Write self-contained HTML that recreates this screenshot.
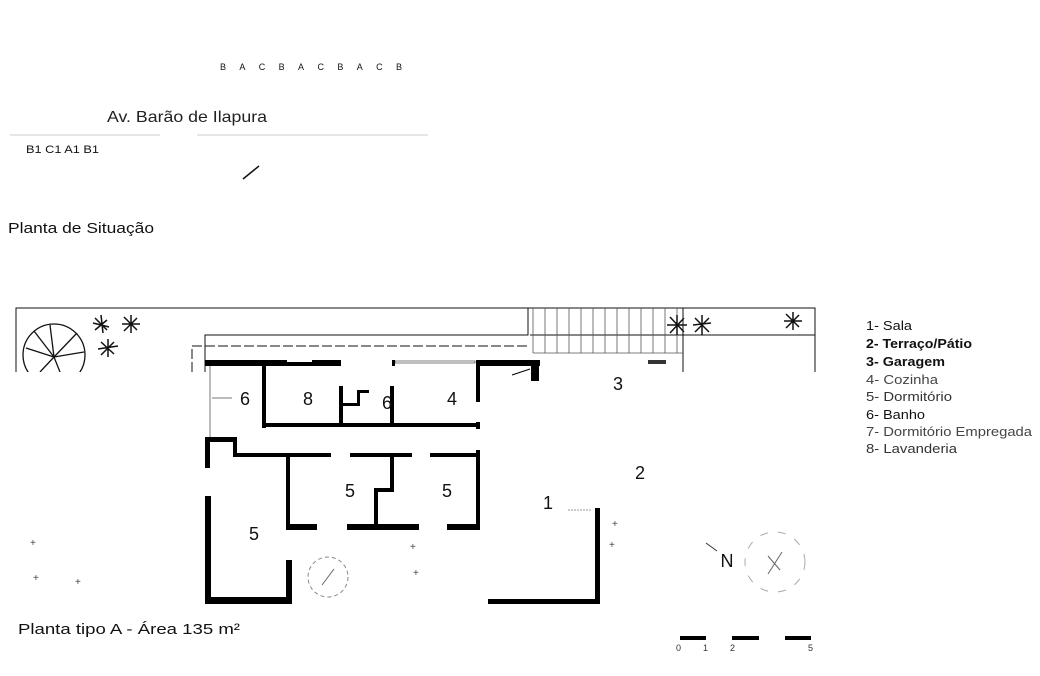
<!DOCTYPE html>
<html><head><meta charset="utf-8"><style>
html,body{margin:0;padding:0;background:#fff;width:1040px;height:676px;overflow:hidden}
svg{display:block;font-family:"Liberation Sans",sans-serif}
</style></head><body>
<svg width="1040" height="676" viewBox="0 0 1040 676" xmlns="http://www.w3.org/2000/svg">
<defs><clipPath id="c1"><rect x="0" y="300" width="200" height="72"/></clipPath></defs>
<!-- site plan -->
<text x="220" y="70" font-size="9" textLength="182" lengthAdjust="spacing" fill="#111">BACBACBACB</text>
<text x="107" y="122" font-size="16" textLength="160" lengthAdjust="spacingAndGlyphs" fill="#222">Av. Barão de Ilapura</text>
<line x1="10" y1="135" x2="160" y2="135" stroke="#ccc" stroke-width="1"/>
<line x1="197" y1="135" x2="428" y2="135" stroke="#ccc" stroke-width="1"/>
<text x="26" y="153" font-size="11" textLength="73" lengthAdjust="spacingAndGlyphs" fill="#111">B1 C1 A1 B1</text>
<line x1="243" y1="179" x2="259" y2="166" stroke="#111" stroke-width="1.5"/>
<text x="8" y="233" font-size="15" textLength="146" lengthAdjust="spacingAndGlyphs" fill="#111">Planta de Situação</text>

<!-- lot lines -->
<g fill="none" stroke="#111" stroke-width="1">
<polyline points="16,372 16,308 815,308 815,372"/>
<line x1="530" y1="335" x2="815" y2="335"/>
<polyline points="205,372 205,335 528,335 528,308"/>
<polyline points="192,372 192,346 528,346" stroke-dasharray="10,3"/>
<line x1="210" y1="366" x2="210" y2="437" stroke="#777"/>
<line x1="683" y1="308" x2="683" y2="372"/>
<line x1="212" y1="398" x2="232" y2="398" stroke="#777"/>
</g>
<!-- garage grid -->
<g stroke="#555" stroke-width="0.8" fill="none">
<line x1="533" y1="308" x2="533" y2="353"/><line x1="545" y1="308" x2="545" y2="353"/>
<line x1="557" y1="308" x2="557" y2="353"/><line x1="569" y1="308" x2="569" y2="353"/>
<line x1="581" y1="308" x2="581" y2="353"/><line x1="593" y1="308" x2="593" y2="353"/>
<line x1="605" y1="308" x2="605" y2="353"/><line x1="617" y1="308" x2="617" y2="353"/>
<line x1="629" y1="308" x2="629" y2="353"/><line x1="641" y1="308" x2="641" y2="353"/>
<line x1="653" y1="308" x2="653" y2="353"/><line x1="665" y1="308" x2="665" y2="353"/>
<line x1="677" y1="308" x2="677" y2="353"/>
<line x1="533" y1="353" x2="683" y2="353"/>
</g>
<rect x="648" y="360" width="18" height="4" fill="#333"/>
<!-- tree -->
<g fill="none" stroke="#111" stroke-width="1.3" clip-path="url(#c1)">
<circle cx="54" cy="355" r="31"/>
<line x1="54" y1="357" x2="34" y2="331"/><line x1="54" y1="357" x2="50" y2="325"/>
<line x1="54" y1="357" x2="77" y2="333"/><line x1="54" y1="357" x2="84" y2="352"/>
<line x1="54" y1="357" x2="26" y2="348"/><line x1="54" y1="357" x2="40" y2="372"/>
<line x1="54" y1="357" x2="60" y2="372"/>
</g>
<g stroke="#111" stroke-width="1.5" fill="none">
<path d="M93,323 l16,4 M101,315 l2,18 M95,330 l12,-10 M95,318 l12,12"/>
<path d="M122,324 l18,0 M131,315 l0,18 M124,331 l13,-13 M124,317 l13,13"/>
<path d="M98,349 l20,-3 M108,339 l0,18 M101,355 l13,-13 M101,342 l13,12"/>
<path d="M667,325 l20,0 M677,315 l0,20 M670,333 l14,-15 M670,317 l14,15"/>
<path d="M693,325 l18,-2 M702,315 l0,20 M695,332 l14,-14 M695,318 l14,14"/>
<path d="M784,321 l18,0 M793,312 l0,18 M786,328 l13,-13 M786,314 l13,13"/>
</g>
<!-- walls -->
<g fill="#000">
<rect x="205" y="360" width="136" height="6"/>
<rect x="392" y="360" width="3" height="6"/>
<rect x="476" y="360" width="64" height="6"/>
<rect x="531" y="360" width="8" height="21"/>
<rect x="262" y="366" width="4" height="62"/>
<rect x="339" y="386" width="4" height="38"/>
<rect x="390" y="386" width="4" height="38"/>
<rect x="476" y="366" width="4" height="36"/>
<rect x="476" y="422" width="4" height="7"/>
<rect x="262" y="423" width="218" height="4"/>
<rect x="342" y="403" width="18" height="3"/>
<rect x="357" y="390" width="3" height="16"/>
<rect x="357" y="390" width="12" height="3"/>
<rect x="205" y="437" width="31" height="5"/>
<rect x="205" y="437" width="5" height="31"/>
<rect x="233" y="437" width="4" height="20"/>
<rect x="233" y="453" width="98" height="4"/>
<rect x="350" y="453" width="62" height="4"/>
<rect x="430" y="453" width="50" height="4"/>
<rect x="476" y="450" width="4" height="80"/>
<rect x="286" y="453" width="4" height="77"/>
<rect x="390" y="453" width="4" height="39"/>
<rect x="374" y="488" width="20" height="4"/>
<rect x="374" y="488" width="4" height="42"/>
<rect x="286" y="524" width="31" height="6"/>
<rect x="347" y="524" width="72" height="6"/>
<rect x="447" y="524" width="33" height="6"/>
<rect x="205" y="496" width="6" height="108"/>
<rect x="205" y="597" width="87" height="7"/>
<rect x="286" y="560" width="6" height="44"/>
<rect x="488" y="599" width="112" height="5"/>
<rect x="595" y="508" width="5" height="96"/>
</g>
<rect x="287" y="359" width="25" height="3" fill="#fff"/>
<rect x="395" y="361" width="80" height="2" fill="#fff" stroke="#000" stroke-width="0.5"/>
<line x1="512" y1="375" x2="530" y2="369" stroke="#000"/>
<line x1="568" y1="510" x2="592" y2="510" stroke="#999" stroke-dasharray="2,1"/>
<!-- circles -->
<circle cx="328" cy="577" r="20" fill="none" stroke="#888" stroke-dasharray="4,3"/>
<line x1="322" y1="585" x2="334" y2="569" stroke="#666"/>
<circle cx="775" cy="562" r="30" fill="none" stroke="#aaa" stroke-dasharray="8,10"/>
<line x1="768" y1="574" x2="782" y2="552" stroke="#666"/>
<line x1="768" y1="556" x2="780" y2="570" stroke="#666"/>
<line x1="706" y1="543" x2="717" y2="551" stroke="#333"/>
<!-- room labels -->
<g font-size="18" fill="#111" text-anchor="middle">
<text x="245" y="405">6</text><text x="308" y="405">8</text><text x="387" y="409">6</text>
<text x="452" y="405">4</text><text x="350" y="497">5</text><text x="447" y="497">5</text>
<text x="254" y="540">5</text><text x="618" y="390">3</text><text x="640" y="479">2</text>
<text x="548" y="509">1</text><text x="727" y="567">N</text>
</g>
<!-- small marks -->
<g fill="#444" font-size="10">
<text x="30" y="546">+</text><text x="33" y="581">+</text><text x="75" y="585">+</text>
<text x="410" y="550">+</text><text x="413" y="576">+</text><text x="612" y="527">+</text><text x="609" y="548">+</text>
</g>
<text x="18" y="634" font-size="15" textLength="222" lengthAdjust="spacingAndGlyphs" fill="#111">Planta tipo A - Área 135 m²</text>
<!-- scale -->
<g fill="#000">
<rect x="680" y="636" width="26" height="4"/><rect x="732" y="636" width="27" height="4"/><rect x="785" y="636" width="26" height="4"/>
</g>
<g font-size="9" fill="#333">
<text x="676" y="651">0</text><text x="703" y="651">1</text><text x="730" y="651">2</text><text x="808" y="651">5</text>
</g>
<!-- legend -->
<g font-size="13" fill="#111">
<text x="866" y="330" textLength="46" lengthAdjust="spacingAndGlyphs">1- Sala</text>
<text x="866" y="348" font-weight="bold" textLength="106" lengthAdjust="spacingAndGlyphs">2- Terraço/Pátio</text>
<text x="866" y="366" font-weight="bold" textLength="79" lengthAdjust="spacingAndGlyphs">3- Garagem</text>
<text x="866" y="384" fill="#444" textLength="72" lengthAdjust="spacingAndGlyphs">4- Cozinha</text>
<text x="866" y="401" fill="#333" textLength="86" lengthAdjust="spacingAndGlyphs">5- Dormitório</text>
<text x="866" y="419" textLength="59" lengthAdjust="spacingAndGlyphs">6- Banho</text>
<text x="866" y="436" fill="#444" textLength="166" lengthAdjust="spacingAndGlyphs">7- Dormitório Empregada</text>
<text x="866" y="453" fill="#333" textLength="91" lengthAdjust="spacingAndGlyphs">8- Lavanderia</text>
</g>
</svg>
</body></html>
